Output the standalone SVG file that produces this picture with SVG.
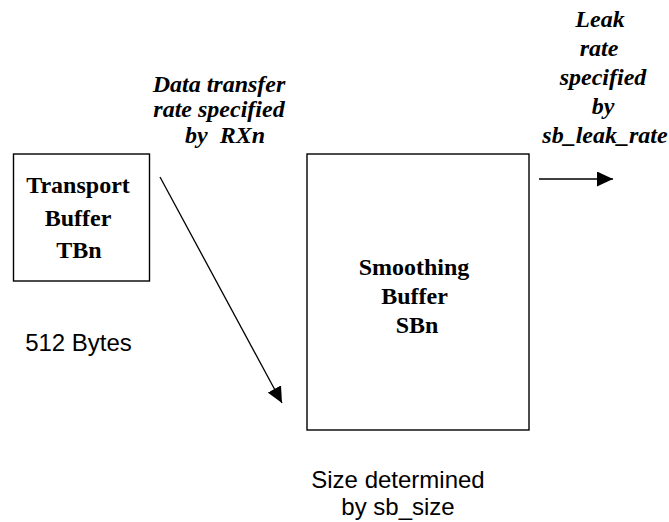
<svg xmlns="http://www.w3.org/2000/svg" width="669" height="522" viewBox="0 0 669 522">
<style>
.box{fill:#fff;stroke:#000;stroke-width:1.4}
.bt{font-family:"Liberation Serif","Times New Roman",serif;font-weight:bold;font-size:24px;fill:#000;text-anchor:middle}
.it{font-family:"Liberation Serif","Times New Roman",serif;font-weight:bold;font-style:italic;font-size:24px;fill:#000;text-anchor:middle}
.ar{font-family:"Liberation Sans",Arial,sans-serif;font-size:24px;fill:#000;text-anchor:middle}
.ln{stroke:#000;stroke-width:1.3;fill:none}
</style>
<defs>
<marker id="ah" viewBox="0 0 16 15" refX="16" refY="7.5" markerWidth="16" markerHeight="15" markerUnits="userSpaceOnUse" orient="auto">
<path d="M0,0 L16,7.5 L0,15 Z" fill="#000"/>
</marker>
</defs>
<rect width="669" height="522" fill="#fff"/>
<g id="tb">
<rect class="box" x="13.5" y="154" width="136" height="127"/>
<text class="bt" x="78" y="193">Transport</text>
<text class="bt" x="78" y="226">Buffer</text>
<text class="bt" x="79" y="258">TBn</text>
</g>
<g id="sb">
<rect class="box" x="307" y="154" width="222" height="276"/>
<text class="bt" x="414" y="275">Smoothing</text>
<text class="bt" x="414.5" y="304">Buffer</text>
<text class="bt" x="417" y="333">SBn</text>
</g>
<g id="labels">
<text class="it" x="219" y="92">Data transfer</text>
<text class="it" x="219" y="117">rate specified</text>
<text class="it" x="225" y="143" xml:space="preserve">by  RXn</text>
<text class="it" x="600" y="27">Leak</text>
<text class="it" x="599" y="56">rate</text>
<text class="it" x="603" y="85">specified</text>
<text class="it" x="603" y="114">by</text>
<text class="it" x="605" y="143">sb_leak_rate</text>
<text class="ar" x="78.5" y="351">512 Bytes</text>
<text class="ar" x="398" y="488">Size determined</text>
<text class="ar" x="398" y="515">by sb_size</text>
</g>
<g id="connectors">
<line class="ln" x1="160" y1="177" x2="282" y2="403" marker-end="url(#ah)"/>
<line class="ln" x1="539" y1="179" x2="613" y2="179" marker-end="url(#ah)"/>
</g>
</svg>
